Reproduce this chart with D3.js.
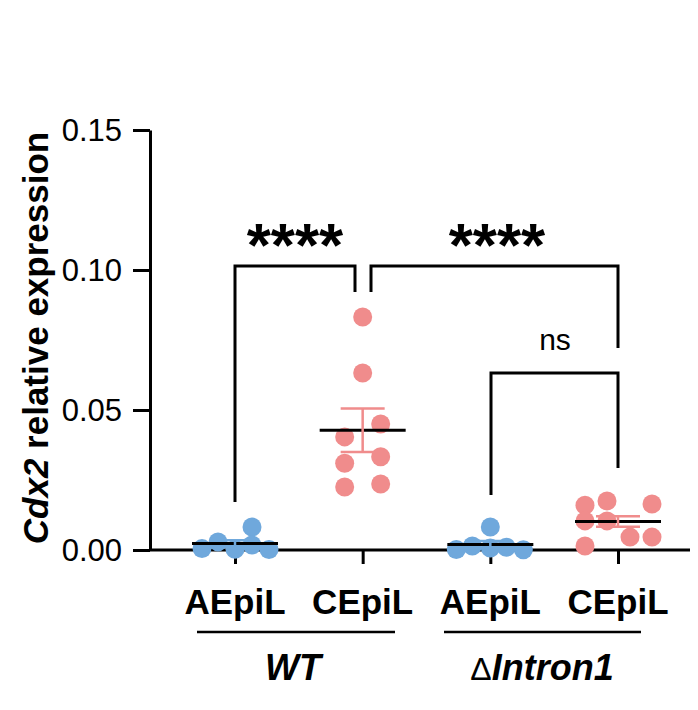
<!DOCTYPE html>
<html><head><meta charset="utf-8">
<script src="https://cdn.jsdelivr.net/npm/d3@7"></script>
<style>body{margin:0;background:#fff}text{font-family:Arial,"Liberation Sans",sans-serif}</style>
</head><body><svg id="c" width="698" height="710"></svg>
<script>
const categories = ["AEpiL","CEpiL","AEpiL","CEpiL"];
const groups = ["WT","ΔIntron1"];
const wtA = [0.0005,0.0029,0.0003,0.0082,0.0018,0.0002];
const wtC = [0.0832,0.0632,0.045,0.0404,0.0333,0.031,0.0225,0.0236];
const inA = [0.0002,0.0014,0.0082,0.0007,0.001,0.0001];
const inC = [0.016,0.0175,0.0164,0.0104,0.0104,0.0046,0.0046,0.0014];
const xOff = [[-33,-17,0,17,17,34],[0,0,18,-18,18,-18,-18,18],[-34,-18,0,0,16,33],[-33,-11,34,-33,-11,12,34,-33]];
const sem = [0.0012,0.0078,0.0013,0.0019];
const yTicks = [0,0.05,0.10,0.15];
const colors = ["#6fa8dc","#f08c8c","#6fa8dc","#f08c8c"];
const series=[wtA,wtC,inA,inC];

const svg=d3.select("#c");
const y=d3.scaleLinear().domain([0,0.15]).range([550,130]);
const x=d3.scalePoint().domain([0,1,2,3]).range([235,618]);
svg.append("g").attr("transform","translate(150,0)")
 .call(d3.axisLeft(y).tickValues(yTicks).tickFormat(d3.format(".2f")).tickSize(17).tickSizeOuter(0))
 .call(g=>{g.attr("font-family",null).attr("font-size",null);g.select(".domain").attr("stroke-width",3);g.selectAll("line").attr("stroke-width",3);
   g.selectAll("text").attr("font-size",31).attr("fill","#000").attr("dx",-8).attr("dy","0.35em");});
svg.append("g").attr("transform","translate(0,550)")
 .call(d3.axisBottom(x).tickSize(14).tickSizeOuter(0).tickFormat(""))
 .call(g=>{g.select(".domain").attr("d","M150,0H690").attr("stroke-width",3);g.selectAll("line").attr("stroke-width",3);});
categories.forEach((c,i)=>svg.append("text").attr("x",x(i)).attr("y",614).attr("text-anchor","middle")
 .attr("font-size",35).attr("font-weight","bold").text(c));
[[197,395,293],[444,641,542]].forEach((r,i)=>{
 svg.append("line").attr("x1",r[0]).attr("x2",r[1]).attr("y1",632).attr("y2",632).attr("stroke","#000").attr("stroke-width",2.5);
 const t=svg.append("text").attr("x",r[2]).attr("y",680).attr("text-anchor","middle").attr("font-size",36).attr("font-weight","bold");
 if(i===0)t.append("tspan").attr("font-style","italic").text(groups[0]);
 else{t.append("tspan").attr("font-weight","normal").attr("font-size",32).text("Δ");t.append("tspan").attr("font-style","italic").text("Intron1");}
});
const yt=svg.append("text").attr("transform","translate(48,338) rotate(-90)").attr("text-anchor","middle").attr("font-size",35).attr("font-weight","bold");
yt.append("tspan").attr("font-style","italic").text("Cdx2");yt.append("tspan").text(" relative expression");

series.forEach((s,i)=>{
 const m=d3.mean(s),cx=x(i);
 svg.selectAll(null).data(s).enter().append("circle").attr("cx",(d,j)=>cx+xOff[i][j]).attr("cy",d=>y(d)).attr("r",9.5).attr("fill",colors[i]);
 svg.append("line").attr("x1",cx-43).attr("x2",cx+43).attr("y1",y(m)).attr("y2",y(m)).attr("stroke","#000").attr("stroke-width",3);
 svg.append("path").attr("d",`M${cx},${y(m-sem[i])}V${y(m+sem[i])}M${cx-22},${y(m-sem[i])}h44M${cx-22},${y(m+sem[i])}h44`).attr("stroke",colors[i]).attr("stroke-width",2.5).attr("fill","none");
});
function bracket(x1,x2,yb,l1,l2){svg.append("path").attr("d",`M${x1},${l1}V${yb}H${x2}V${l2}`).attr("stroke","#000").attr("stroke-width",3).attr("fill","none");}
bracket(235,355,266,502,292);
bracket(371,618,266,292,348);
bracket(491,618,373,495,468);
[[295,"****"],[497,"****"]].forEach(s=>svg.append("text").attr("x",s[0]).attr("y",266).attr("text-anchor","middle").attr("font-size",62).attr("font-weight","bold").text(s[1]));
svg.append("text").attr("x",555).attr("y",350).attr("text-anchor","middle").attr("font-size",30).text("ns");
</script></body></html>
